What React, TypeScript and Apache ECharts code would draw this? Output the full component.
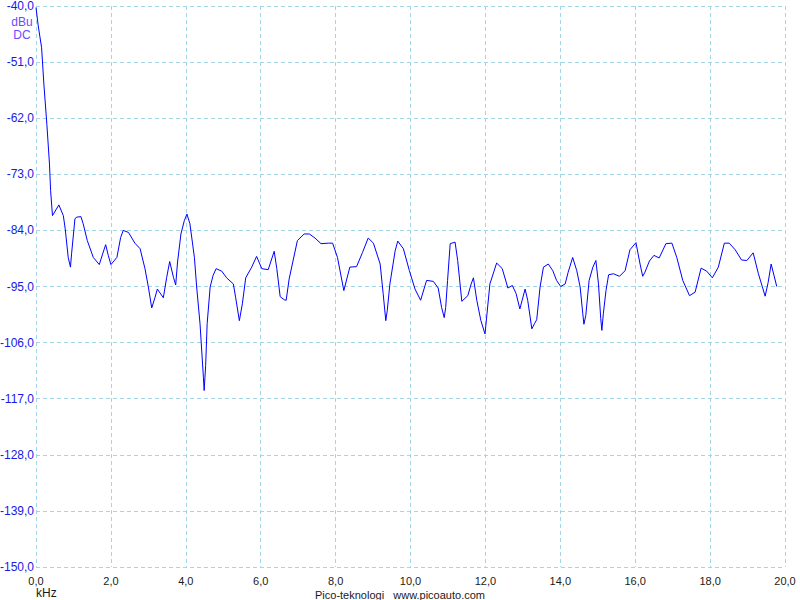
import React, { useEffect, useRef } from "react";
import * as echarts from "echarts";

// Spectrum trace (frequency in kHz, level in dBu)
const freqKHz: number[] = [
  0.0, 0.06, 0.15, 0.21, 0.29, 0.36, 0.39, 0.44, 0.61, 0.73,
  0.78, 0.86, 0.92, 0.95, 1.04, 1.09, 1.2, 1.26, 1.37, 1.53,
  1.69, 1.78, 1.86, 1.93, 2.0, 2.16, 2.26, 2.33, 2.47, 2.64,
  2.78, 2.91, 3.0, 3.09, 3.18, 3.24, 3.4, 3.49, 3.57, 3.67,
  3.73, 3.78, 3.87, 3.96, 4.03, 4.11, 4.23, 4.29, 4.38, 4.47,
  4.49, 4.53, 4.57, 4.65, 4.73, 4.81, 4.96, 5.09, 5.27, 5.33,
  5.43, 5.51, 5.6, 5.76, 5.89, 6.03, 6.2, 6.36, 6.43, 6.52,
  6.63, 6.68, 6.76, 6.98, 7.16, 7.3, 7.45, 7.61, 7.81, 7.92,
  8.05, 8.22, 8.38, 8.56, 8.72, 8.87, 9.01, 9.19, 9.27, 9.34,
  9.38, 9.45, 9.59, 9.66, 9.81, 9.97, 10.12, 10.27, 10.43, 10.61,
  10.74, 10.83, 10.9, 10.94, 10.99, 11.06, 11.19, 11.26, 11.37, 11.53,
  11.62, 11.68, 11.77, 11.88, 11.99, 12.12, 12.3, 12.45, 12.6, 12.72,
  12.82, 12.92, 13.06, 13.13, 13.24, 13.31, 13.37, 13.46, 13.55, 13.68,
  13.8, 13.9, 14.01, 14.13, 14.21, 14.33, 14.44, 14.53, 14.6, 14.63,
  14.68, 14.77, 14.87, 14.95, 15.02, 15.08, 15.11, 15.15, 15.22, 15.29,
  15.42, 15.58, 15.73, 15.86, 16.02, 16.13, 16.2, 16.26, 16.38, 16.5,
  16.64, 16.82, 16.98, 17.11, 17.27, 17.45, 17.6, 17.76, 17.91, 18.06,
  18.22, 18.38, 18.51, 18.67, 18.84, 18.98, 19.15, 19.29, 19.47, 19.55,
  19.63, 19.78,
];

const levelDbu: number[] = [
  -40.3, -43.9, -48.2, -55.3, -63.2, -71.0, -76.2, -81.1, -79.0, -81.1,
  -83.7, -89.3, -91.2, -88.6, -81.7, -81.4, -81.3, -82.7, -86.0, -89.3,
  -90.7, -88.6, -86.8, -88.9, -90.7, -89.3, -85.4, -84.0, -84.4, -86.5,
  -87.6, -91.5, -95.1, -99.2, -97.1, -95.5, -97.2, -93.2, -90.1, -93.2,
  -94.7, -90.2, -84.7, -82.1, -80.8, -82.7, -89.3, -95.1, -102.3, -112.8,
  -115.4, -110.5, -102.3, -95.1, -92.8, -91.5, -92.0, -93.3, -94.5, -97.1,
  -101.7, -98.4, -93.3, -91.2, -89.1, -91.5, -91.7, -88.1, -91.5, -97.0,
  -97.6, -97.7, -93.5, -86.0, -84.7, -84.7, -85.5, -86.6, -86.5, -86.5,
  -89.3, -95.8, -91.2, -91.1, -88.3, -85.5, -86.5, -90.6, -96.4, -101.7,
  -99.7, -94.5, -88.0, -86.1, -87.6, -91.9, -95.5, -97.7, -93.8, -94.0,
  -95.3, -99.1, -101.1, -99.1, -93.8, -86.6, -86.3, -89.9, -97.9, -96.8,
  -94.5, -93.3, -97.7, -101.7, -104.3, -94.5, -90.4, -91.5, -95.3, -94.8,
  -96.4, -99.4, -95.5, -97.7, -103.3, -102.3, -101.5, -95.1, -91.2, -90.6,
  -91.9, -93.8, -95.0, -94.5, -92.2, -89.3, -91.9, -95.1, -100.3, -102.4,
  -100.7, -93.8, -91.2, -89.9, -94.5, -101.3, -103.6, -100.3, -95.8, -92.7,
  -92.5, -93.0, -91.9, -87.8, -86.4, -90.6, -93.0, -92.2, -90.0, -88.9,
  -89.4, -86.6, -86.5, -89.3, -93.8, -96.8, -96.1, -91.4, -92.0, -93.3,
  -91.2, -86.5, -86.5, -87.8, -89.8, -89.9, -88.4, -92.5, -96.9, -94.2,
  -90.6, -95.0,
];

const yMin = -150;
const yMax = -40;
const yStep = 11;
const xMin = 0;
const xMax = 20;
const xStep = 2;

const unitLines: string[] = ["dBu", "DC"];
const xUnit = "kHz";
const footer = "Pico-teknologi   www.picoauto.com";

const FONT = "'Liberation Sans', Arial, sans-serif";
const GRID_COLOR = "#a3d6e6";

const fmt = (v: number) => v.toFixed(1).replace(".", ",");

export default function App() {
  const ref = useRef<HTMLDivElement>(null);

  useEffect(() => {
    if (!ref.current) return;
    const chart = echarts.init(ref.current, undefined, { renderer: "svg" });
    const data = freqKHz.map((f, i) => [f, levelDbu[i]]);
    chart.setOption({
      animation: false,
      backgroundColor: "#ffffff",
      grid: {
        left: 36,
        top: 6,
        right: 15,
        bottom: 33,
        containLabel: false,
        outerBoundsMode: "none",
      },
      xAxis: {
        type: "value",
        min: xMin,
        max: xMax,
        interval: xStep,
        axisLine: { show: false },
        axisTick: { show: false },
        splitLine: {
          show: true,
          lineStyle: { color: GRID_COLOR, type: [4, 3], width: 1 },
        },
        axisLabel: {
          formatter: (v: number) => fmt(v),
          color: "#1a1a1a",
          fontFamily: FONT,
          fontSize: 11,
          margin: 8,
          showMinLabel: true,
          showMaxLabel: true,
        },
      },
      yAxis: {
        type: "value",
        min: yMin,
        max: yMax,
        interval: yStep,
        axisLine: { show: false },
        axisTick: { show: false },
        splitLine: {
          show: true,
          lineStyle: { color: GRID_COLOR, type: [4, 3], width: 1 },
        },
        axisLabel: {
          formatter: (v: number) => fmt(v),
          color: "#1818e8",
          fontFamily: FONT,
          fontSize: 12,
          lineHeight: 12,
          margin: 2,
          showMinLabel: true,
          showMaxLabel: true,
        },
      },
      graphic: [
        {
          type: "text",
          x: 22,
          y: 15,
          style: {
            text: unitLines.join("\n"),
            fill: "#6a4cff",
            font: `12px ${FONT}`,
            align: "center",
            lineHeight: 13,
          },
        },
        {
          type: "text",
          x: 36,
          y: 587,
          style: { text: xUnit, fill: "#1a1a1a", font: `12px ${FONT}` },
        },
        {
          type: "text",
          x: 315,
          y: 589,
          style: { text: footer, fill: "#1a1a1a", font: `11px ${FONT}` },
        },
      ],
      series: [
        {
          type: "line",
          data,
          showSymbol: false,
          symbol: "none",
          lineStyle: { color: "#0000ff", width: 1 },
          silent: true,
        },
      ],
    });
    return () => chart.dispose();
  }, []);

  return (
    <div
      ref={ref}
      style={{ position: "fixed", left: 0, top: 0, width: 800, height: 600 }}
    />
  );
}
